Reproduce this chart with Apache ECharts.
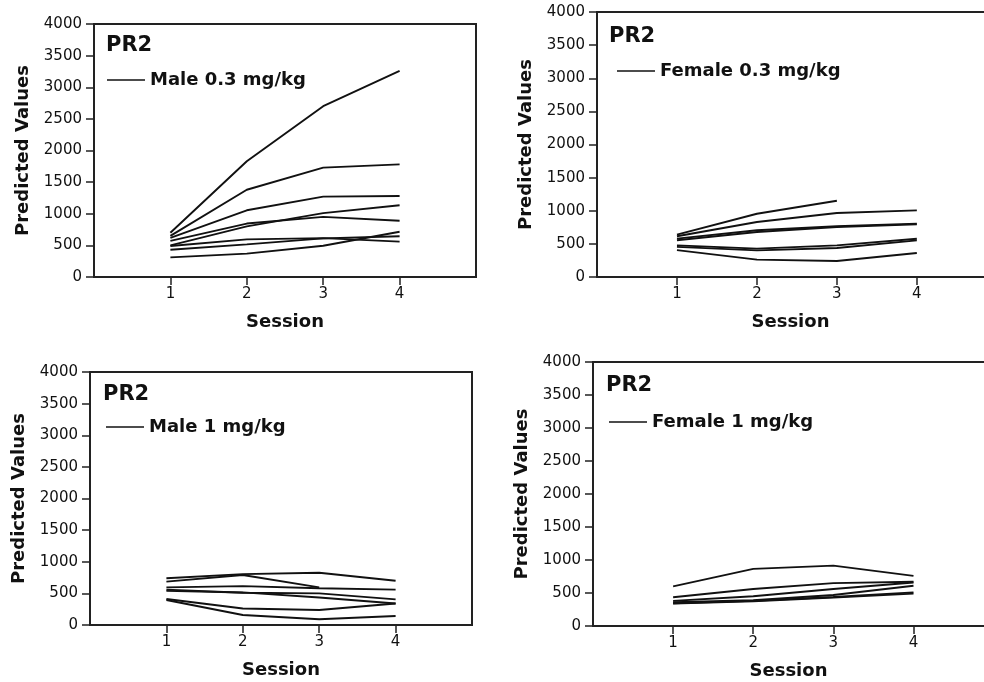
<!DOCTYPE html>
<html>
<head>
<meta charset="utf-8">
<script src="https://cdn.jsdelivr.net/npm/echarts/dist/echarts.min.js"></script>
<style>
html,body{margin:0;padding:0;background:#fff;}
#chart{width:984px;height:682px;}
</style>
</head>
<body>
<div id="chart"></div>
<script>
// ---- data ----
const sessions = [1, 2, 3, 4];
const yTicks = [0, 500, 1000, 1500, 2000, 2500, 3000, 3500, 4000];
const panelTitles = ['PR2', 'PR2', 'PR2', 'PR2'];
const groupNames = ['Male 0.3 mg/kg', 'Female 0.3 mg/kg', 'Male 1 mg/kg', 'Female 1 mg/kg'];

// predicted values per subject (sessions 1..4), null = no value
const male03 = [
  [700, 1830, 2700, 3260],
  [650, 1380, 1730, 1780],
  [620, 1055, 1270, 1280],
  [570, 845, 950, 890],
  [500, 800, 1010, 1135],
  [490, 595, 615, 560],
  [430, 515, 610, 645],
  [310, 370, 495, 715]
];
const female03 = [
  [640, 955, 1150, null],
  [615, 830, 965, 1005],
  [580, 705, 765, 805],
  [555, 680, 755, 795],
  [478, 428, 478, 578],
  [455, 402, 438, 553],
  [405, 262, 241, 362]
];
const male1 = [
  [740, 805, 825, 700],
  [685, 790, 595, null],
  [595, 615, 580, 560],
  [560, 510, 500, 405],
  [540, 515, 435, 340],
  [410, 260, 237, 340],
  [395, 158, 90, 142]
];
const female1 = [
  [600, 865, 915, 760],
  [435, 560, 650, 670],
  [380, 450, 560, 660],
  [360, 390, 470, 610],
  [345, 380, 440, 510],
  [340, 375, 430, 490]
];
const panels = [male03, female03, male1, female1];

// ---- layout ----
const FONT = 'DejaVu Sans';
// right-hand panels run off the page edge in the original
const grids = [
  {left: 94, top: 24, right: 508, bottom: 405, xMax: 5, box: true},
  {left: 597, top: 12, right: 0, bottom: 405, xMax: 4.84, box: false},
  {left: 90, top: 372, right: 512, bottom: 57, xMax: 5, box: true},
  {left: 593, top: 362, right: 0, bottom: 56, xMax: 4.88, box: false}
];
const titlePos = [
  {left: 106, top: 35},
  {left: 609, top: 26},
  {left: 103, top: 384},
  {left: 606, top: 375}
];
const legendPos = [
  {left: 107, top: 70},
  {left: 617, top: 61},
  {left: 106, top: 417},
  {left: 609, top: 412}
];

const axisStyle = {lineStyle: {color: '#222', width: 2}};
const option = {
  animation: false,
  backgroundColor: '#fff',
  title: panelTitles.map((t, i) => ({
    text: t, left: titlePos[i].left, top: titlePos[i].top, padding: 0,
    textStyle: {fontFamily: FONT, fontWeight: 'bold', fontSize: 21, color: '#111'}
  })),
  legend: groupNames.map((n, i) => ({
    data: [n], left: legendPos[i].left, top: legendPos[i].top, padding: 0,
    icon: 'rect', itemWidth: 38, itemHeight: 1.6, itemGap: 6,
    selectedMode: false,
    textStyle: {fontFamily: FONT, fontWeight: 'bold', fontSize: 18, color: '#111', lineHeight: 20}
  })),
  grid: grids.map(g => ({
    left: g.left, top: g.top, right: g.right, bottom: g.bottom,
    show: g.box, borderColor: '#222', borderWidth: 2, backgroundColor: 'transparent'
  })),
  xAxis: [],
  yAxis: grids.map((g, i) => ({
    type: 'value', gridIndex: i, min: yTicks[0], max: yTicks[yTicks.length - 1], interval: 500,
    name: 'Predicted Values', nameLocation: 'middle', nameGap: 62, nameRotate: 90,
    nameTextStyle: {fontFamily: FONT, fontWeight: 'bold', fontSize: 18, color: '#111'},
    axisLine: axisStyle,
    axisTick: {show: true, length: 8, lineStyle: {color: '#222', width: 1.5}},
    axisLabel: {margin: 12, fontFamily: FONT, fontSize: 15, color: '#111', formatter: v => String(v)},
    splitLine: {show: false}
  })),
  series: []
};

grids.forEach((g, i) => {
  option.xAxis.push({
    type: 'value', gridIndex: i, min: 0, max: g.xMax, position: 'bottom',
    name: 'Session', nameLocation: 'middle', nameGap: 36,
    nameTextStyle: {fontFamily: FONT, fontWeight: 'bold', fontSize: 18, color: '#111',
      padding: g.box ? 0 : [0, 0, 0, 0]},
    axisLine: axisStyle,
    axisTick: {show: true, length: 8, customValues: sessions, lineStyle: {color: '#222', width: 1.5}},
    axisLabel: {customValues: sessions, margin: 10, fontFamily: FONT, fontSize: 15, color: '#111'},
    splitLine: {show: false}
  });
});
// top frame line for the panels cut by the page edge
grids.forEach((g, i) => {
  if (!g.box) {
    option.xAxis.push({
      type: 'value', gridIndex: i, min: 0, max: g.xMax, position: 'top',
      axisLine: {onZero: false, lineStyle: {color: '#222', width: 2}},
      axisTick: {show: false}, axisLabel: {show: false}, splitLine: {show: false}
    });
  }
});

panels.forEach((rows, p) => {
  rows.forEach(vals => {
    const data = [];
    vals.forEach((v, k) => { if (v !== null) data.push([sessions[k], v]); });
    option.series.push({
      type: 'line', name: groupNames[p], xAxisIndex: p, yAxisIndex: p,
      data: data, showSymbol: false, symbol: 'none',
      lineStyle: {color: '#111', width: 1.9}, itemStyle: {color: '#111'},
      emphasis: {disabled: true}
    });
  });
});

const chart = echarts.init(document.getElementById('chart'), null, {renderer: 'canvas'});
chart.setOption(option);
</script>
</body>
</html>
